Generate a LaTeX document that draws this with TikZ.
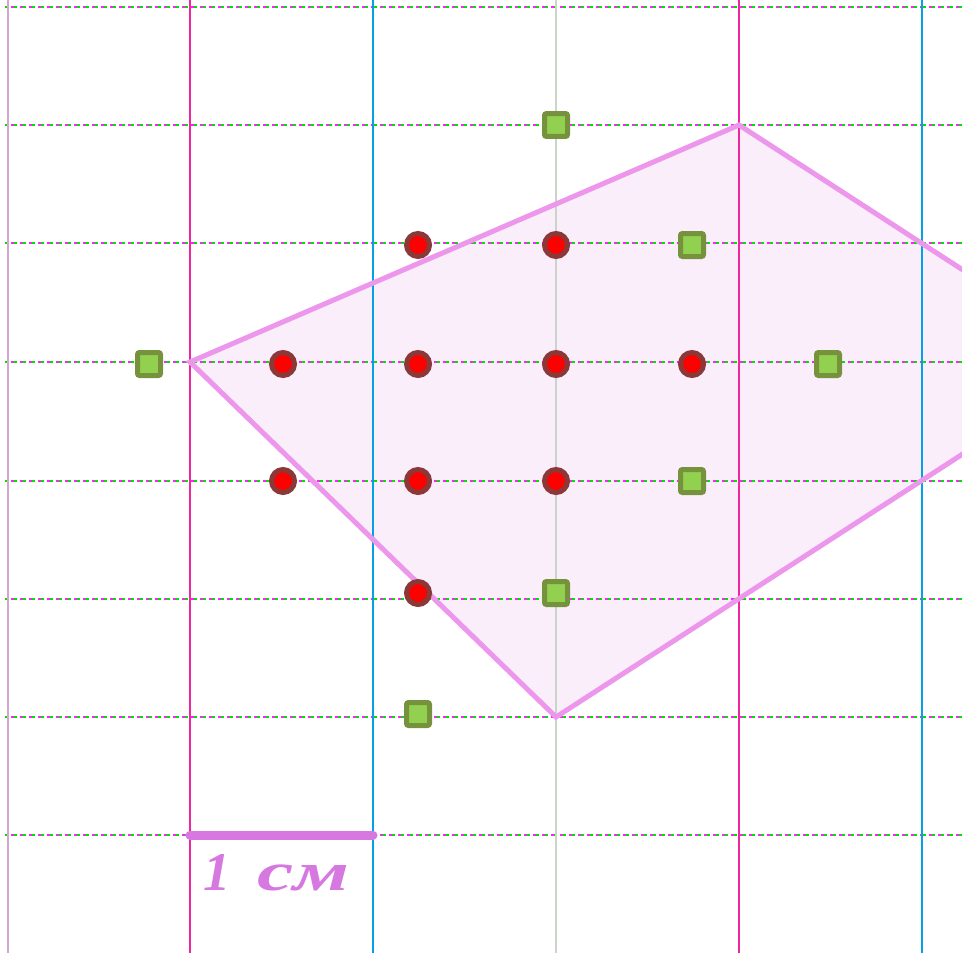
\documentclass[tikz,border=0pt]{standalone}
\usepackage{fontspec}
\usepackage{graphicx}
\newfontfamily\cyrserif{Liberation Serif}
\definecolor{dotred}{RGB}{255,0,0}
\definecolor{dotrim}{RGB}{139,56,56}
\definecolor{sqfill}{RGB}{146,208,80}
\definecolor{sqrim}{RGB}{118,146,60}
\definecolor{polyfill}{RGB}{250,238,251}
\definecolor{polyedge}{RGB}{236,150,236}
\definecolor{labelcol}{RGB}{215,120,225}
\definecolor{gridgreen}{RGB}{0,225,0}
\definecolor{gridmag}{RGB}{245,40,245}
\begin{document}
\begin{tikzpicture}[x=0.02cm,y=-0.02cm,
  vline/.style={line width=0.04cm},
  hlineA/.style={line width=0.045cm, gridgreen, dash pattern=on 0.06cm off 0.12cm},
  hlineB/.style={line width=0.045cm, gridmag, dash pattern=on 0.06cm off 0.12cm, dash phase=0.06cm},
  reddot/.style={circle, fill=dotred, draw=dotrim, line width=0.1cm, minimum size=0.46cm, inner sep=0pt},
  greensq/.style={rectangle, rounded corners=0.04cm, fill=sqfill, draw=sqrim, line width=0.1cm, minimum size=0.46cm, inner sep=0pt},
  lbltext/.style={font=\cyrserif\itshape\bfseries\fontsize{31}{34}\selectfont, text=labelcol, inner sep=0pt, anchor=base west}
]
\useasboundingbox (0,0) rectangle (962,953);
\clip (0,0) rectangle (962,953);
% polygon
\coordinate (pA) at (190,362);
\coordinate (pB) at (739,125);
\coordinate (pC) at (1105,362);
\coordinate (pD) at (556,717);
\fill[polyfill] (pA) -- (pB) -- (pC) -- (pD) -- cycle;
% horizontal grid lines
\foreach \y in {7,125,243,362,481,599,717,835} {
  \draw[hlineA] (5,\y) -- (962,\y);
  \draw[hlineB] (5,\y) -- (962,\y);
}
% vertical grid lines
\draw[vline, violet!35] (8,0) -- (8,953);
\draw[vline, magenta!85] (190,0) -- (190,953);
\draw[vline, cyan!90!blue] (373,0) -- (373,953);
\draw[vline, green!45!violet!30] (556,0) -- (556,953);
\draw[vline, magenta!85] (739,0) -- (739,953);
\draw[vline, cyan!90!blue] (922,0) -- (922,953);
% polygon edge
\draw[polyedge, line width=0.1cm] (pA) -- (pB) -- (pC) -- (pD) -- cycle;
% scale bar
\coordinate (s1) at (190,835);
\coordinate (s2) at (373,835);
\draw[labelcol, line width=0.18cm, line cap=round] (s1) -- (s2);
\node[lbltext] (lbl1) at (203,890) {1};
\node[lbltext] (lbl2) at (257,890) {\scalebox{1.5}[1]{см}};
% red dots
\node[reddot] (r1) at (418,245) {};
\node[reddot] (r2) at (556,245) {};
\node[reddot] (r3) at (283,364) {};
\node[reddot] (r4) at (418,364) {};
\node[reddot] (r5) at (556,364) {};
\node[reddot] (r6) at (692,364) {};
\node[reddot] (r7) at (283,481) {};
\node[reddot] (r8) at (418,481) {};
\node[reddot] (r9) at (556,481) {};
\node[reddot] (r10) at (418,593) {};
% green squares
\node[greensq] (g1) at (556,125) {};
\node[greensq] (g2) at (692,245) {};
\node[greensq] (g3) at (149,364) {};
\node[greensq] (g4) at (828,364) {};
\node[greensq] (g5) at (692,481) {};
\node[greensq] (g6) at (556,593) {};
\node[greensq] (g7) at (418,714) {};
\end{tikzpicture}
\end{document}
